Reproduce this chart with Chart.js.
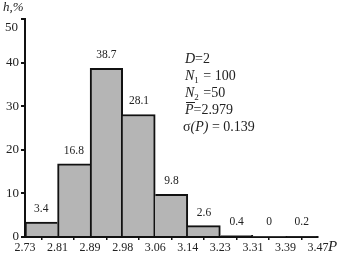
<!DOCTYPE html>
<html>
<head>
<meta charset="utf-8">
<script src="https://cdn.jsdelivr.net/npm/chart.js@4.4.1/dist/chart.umd.min.js"></script>
<style>
  html, body { margin: 0; padding: 0; background: #fff; }
  canvas { display: block; }
</style>
</head>
<body>
<canvas id="hist" width="339" height="255"></canvas>
<script>
// bin edges along P and the share of each bin, %
const binEdges = ['2.73', '2.81', '2.89', '2.98', '3.06', '3.14', '3.23', '3.31', '3.39', '3.47'];
const frequencies = [3.4, 16.8, 38.7, 28.1, 9.8, 2.6, 0.4, 0, 0.2];
const valueLabels = ['3.4', '16.8', '38.7', '28.1', '9.8', '2.6', '0.4', '0', '0.2'];
const yTicks = [0, 10, 20, 30, 40, 50];

// run parameters shown in the legend block
const paramD = '2';
const paramN1 = '100';
const paramN2 = '50';
const meanP = '2.979';
const sigmaP = '0.139';

const serif = '"Liberation Serif", "DejaVu Serif", serif';

const points = frequencies.map((v, i) => ({ x: i + 0.5, y: v }));

// draw a shared edge only once, by the taller of the two neighbours
const edgeWidth = (ctx) => {
  const i = ctx.dataIndex;
  const h = frequencies[i];
  const prev = i > 0 ? frequencies[i - 1] : -1;
  const next = i < frequencies.length - 1 ? frequencies[i + 1] : -1;
  return { top: 2, bottom: 0, left: prev < h ? 2 : 0, right: next < h ? 2 : 0 };
};

const labelsPlugin = {
  id: 'labels',
  afterDraw(chart) {
    const { ctx, scales: { x, y } } = chart;
    ctx.save();
    ctx.fillStyle = '#222';

    // value above each bar
    ctx.font = '11.5px ' + serif;
    ctx.textAlign = 'center';
    ctx.textBaseline = 'alphabetic';
    frequencies.forEach((v, i) => {
      const px = x.getPixelForValue(i + 0.5);
      const py = y.getPixelForValue(v);
      ctx.fillText(valueLabels[i], px, Math.min(py, y.getPixelForValue(0.4)) - 10);
    });

    // top y label sits a little lower than its tick
    ctx.textAlign = 'right';
    ctx.textBaseline = 'middle';
    ctx.font = '13px ' + serif;
    ctx.fillText('50', 18, 28);

    // axis titles
    ctx.textAlign = 'left';
    ctx.textBaseline = 'alphabetic';
    ctx.font = 'italic 13px ' + serif;
    ctx.fillText('h,%', 3, 11);
    ctx.font = 'italic 15px ' + serif;
    ctx.fillText('P', 328, 251);

    // parameter block
    const bx = 185;
    const put = (txt, font, xx, yy) => {
      ctx.font = font;
      ctx.fillText(txt, xx, yy);
      return xx + ctx.measureText(txt).width;
    };
    const it = 'italic 14px ' + serif;
    const rg = '14px ' + serif;
    const sm = '9px ' + serif;

    let cx = put('D', it, bx, 63);
    put('=' + paramD, rg, cx, 63);

    cx = put('N', it, bx, 80);
    cx = put('1', sm, cx, 83);
    put(' = ' + paramN1, rg, cx + 1, 80);

    cx = put('N', it, bx, 97);
    cx = put('2', sm, cx, 100);
    put(' =' + paramN2, rg, cx + 1, 97);

    cx = put('P', it, bx, 114);
    ctx.fillRect(bx + 1, 102, 9, 1);
    put('=' + meanP, rg, cx, 114);

    cx = put('σ', rg, bx - 2, 131);
    cx = put('(P)', it, cx, 131);
    put(' = ' + sigmaP, rg, cx, 131);

    ctx.restore();
  }
};

new Chart(document.getElementById('hist'), {
  type: 'bar',
  data: {
    datasets: [{
      data: points,
      backgroundColor: '#b5b5b5',
      borderColor: '#111',
      borderWidth: edgeWidth,
      barPercentage: 1,
      categoryPercentage: 1
    }]
  },
  options: {
    responsive: false,
    animation: false,
    layout: { padding: { top: 19, right: 21, left: 0, bottom: 0 } },
    plugins: { legend: { display: false }, tooltip: { enabled: false } },
    scales: {
      x: {
        type: 'linear',
        min: 0,
        max: 9,
        offset: false,
        afterBuildTicks: (axis) => { axis.ticks = binEdges.map((_, i) => ({ value: i })); },
        afterFit: (axis) => { axis.height = 18; },
        ticks: {
          autoSkip: false,
          maxRotation: 0,
          padding: 1,
          color: '#222',
          font: { family: serif, size: 12 },
          callback: (v) => binEdges[v]
        },
        grid: { drawOnChartArea: false, tickLength: 3, color: '#111', lineWidth: 1.5 },
        border: { color: '#111', width: 2 }
      },
      y: {
        min: 0,
        max: 50,
        afterBuildTicks: (axis) => { axis.ticks = yTicks.map((v) => ({ value: v })); },
        afterFit: (axis) => { axis.width = 25; },
        ticks: {
          padding: 2,
          color: '#222',
          font: { family: serif, size: 13 },
          callback: (v) => (v === 50 ? '' : v)
        },
        grid: { drawOnChartArea: false, tickLength: 4, color: '#111', lineWidth: 2 },
        border: { color: '#111', width: 2 }
      }
    }
  },
  plugins: [labelsPlugin]
});
</script>
</body>
</html>
